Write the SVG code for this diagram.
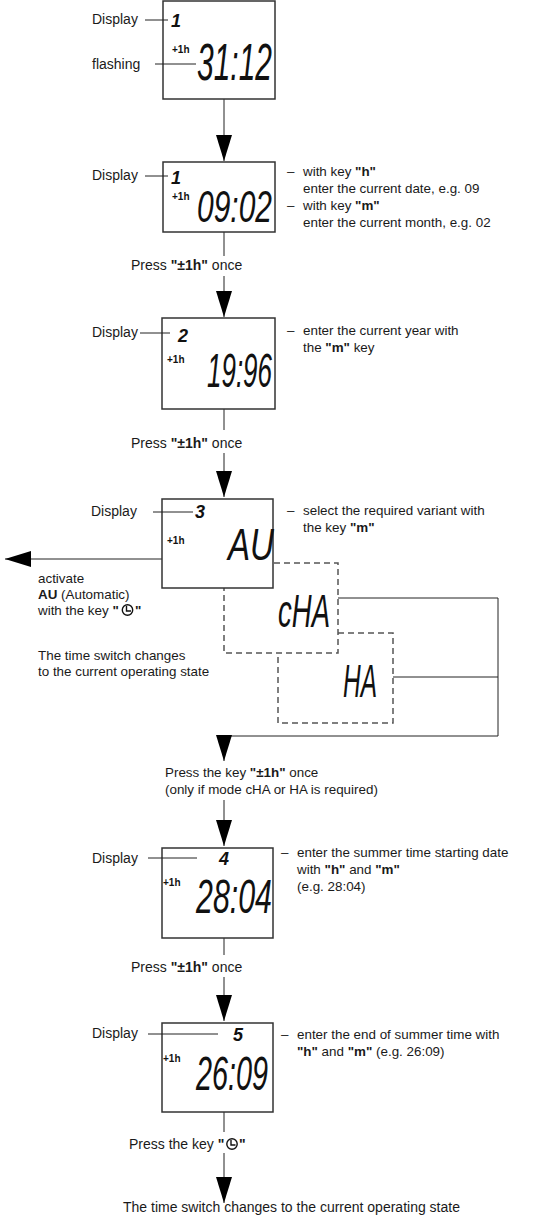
<svg xmlns="http://www.w3.org/2000/svg" width="546" height="1216" viewBox="0 0 546 1216">
<defs>
<style>
.t{font-family:"Liberation Sans",Arial,sans-serif;font-size:14px;fill:#1a1a1a}
.r{font-size:13.4px}
.b{font-weight:bold}
.box{fill:#fff;stroke:#333;stroke-width:1.5}
.dash{fill:#fff;stroke:#555;stroke-width:1.5;stroke-dasharray:6 4}
.ln{stroke:#222;stroke-width:1;fill:none}
.lcd{font-family:"Liberation Sans",Arial,sans-serif;font-style:italic;fill:#111}
.sm{font-family:"Liberation Sans",Arial,sans-serif;font-size:10px;font-weight:bold;fill:#111}
.num{font-family:"Liberation Sans",Arial,sans-serif;font-size:18px;font-weight:bold;font-style:italic;fill:#111}
.ic{fill:none;stroke:#111;stroke-width:1.4}
</style>
<marker id="ah" markerUnits="userSpaceOnUse" markerWidth="28" markerHeight="16" refX="26" refY="8" orient="auto">
<path d="M0,0 L26,8 L0,16 z" fill="#000"/>
</marker>
</defs>

<g id="connectors">
<line class="ln" x1="224" y1="99" x2="224" y2="161" marker-end="url(#ah)"/>
<line class="ln" x1="224" y1="232" x2="224" y2="256"/>
<line class="ln" x1="224" y1="276" x2="224" y2="317" marker-end="url(#ah)"/>
<line class="ln" x1="224" y1="409" x2="224" y2="430"/>
<line class="ln" x1="224" y1="453" x2="224" y2="497" marker-end="url(#ah)"/>
<line class="ln" x1="162" y1="559" x2="5" y2="559" marker-end="url(#ah)"/>
<line class="ln" x1="338" y1="598" x2="498" y2="598"/>
<line class="ln" x1="393" y1="677" x2="498" y2="677"/>
<path class="ln" d="M498,598 V736 H224 V761" marker-end="url(#ah)"/>
<line class="ln" x1="224" y1="800" x2="224" y2="846" marker-end="url(#ah)"/>
<line class="ln" x1="224" y1="938" x2="224" y2="955"/>
<line class="ln" x1="224" y1="977" x2="224" y2="1021" marker-end="url(#ah)"/>
<line class="ln" x1="224" y1="1112" x2="224" y2="1132"/>
<line class="ln" x1="224" y1="1153" x2="224" y2="1203" marker-end="url(#ah)"/>
</g>

<g id="display1">
<rect class="box" x="163" y="1" width="112" height="98"/>
<text class="t" x="92" y="24">Display</text>
<line class="ln" x1="145" y1="20" x2="168" y2="20"/>
<text class="num" x="171" y="27">1</text>
<text class="sm" x="172" y="53">+1h</text>
<text class="t" x="92" y="69">flashing</text>
<line class="ln" x1="155" y1="64" x2="196" y2="64"/>
<text class="lcd" x="197" y="80" font-size="52" textLength="75" lengthAdjust="spacingAndGlyphs">31:12</text>
</g>

<g id="display2">
<rect class="box" x="163" y="162" width="112" height="70"/>
<text class="t" x="92" y="180">Display</text>
<line class="ln" x1="145" y1="176" x2="168" y2="176"/>
<text class="num" x="171" y="184" font-size="16">1</text>
<text class="sm" x="172" y="200">+1h</text>
<text class="lcd" x="197" y="222" font-size="44" textLength="75" lengthAdjust="spacingAndGlyphs">09:02</text>
<text class="t r" x="287" y="176">–</text>
<text class="t r" x="303" y="176">with key <tspan class="b">"h"</tspan></text>
<text class="t r" x="303" y="193">enter the current date, e.g. 09</text>
<text class="t r" x="287" y="210">–</text>
<text class="t r" x="303" y="210">with key <tspan class="b">"m"</tspan></text>
<text class="t r" x="303" y="227">enter the current month, e.g. 02</text>
<text class="t" x="131" y="270">Press <tspan class="b">"±1h"</tspan> once</text>
</g>

<g id="display3">
<rect class="box" x="162" y="318" width="113" height="91"/>
<text class="t" x="92" y="337">Display</text>
<line class="ln" x1="140" y1="333" x2="170" y2="333"/>
<text class="num" x="178" y="342" font-size="15">2</text>
<text class="sm" x="167" y="363">+1h</text>
<text class="lcd" x="207" y="387" font-size="48" textLength="65" lengthAdjust="spacingAndGlyphs">19:96</text>
<text class="t r" x="287" y="335">–</text>
<text class="t r" x="303" y="335">enter the current year with</text>
<text class="t r" x="303" y="352">the <tspan class="b">"m"</tspan> key</text>
<text class="t" x="131" y="448">Press <tspan class="b">"±1h"</tspan> once</text>
</g>

<g id="variantHA">
<rect class="dash" x="278" y="633" width="115" height="90"/>
<text class="lcd" x="343" y="697" font-size="46" textLength="34" lengthAdjust="spacingAndGlyphs">HA</text>
</g>

<g id="variantcHA">
<rect class="dash" x="224" y="563" width="114" height="90"/>
<text class="lcd" x="278" y="627" font-size="46" textLength="52" lengthAdjust="spacingAndGlyphs">cHA</text>
</g>

<g id="display4">
<rect class="box" x="162" y="499" width="111" height="89"/>
<text class="t" x="91" y="516">Display</text>
<line class="ln" x1="153" y1="512" x2="193" y2="512"/>
<text class="num" x="195" y="518" font-size="15">3</text>
<text class="sm" x="167" y="544">+1h</text>
<text class="lcd" x="228" y="560" font-size="44" textLength="46" lengthAdjust="spacingAndGlyphs">AU</text>
<text class="t r" x="287" y="515">–</text>
<text class="t r" x="303" y="515">select the required variant with</text>
<text class="t r" x="303" y="532">the key <tspan class="b">"m"</tspan></text>
</g>

<g id="autoNote">
<text class="t r" x="38" y="583">activate</text>
<text class="t r" x="38" y="599"><tspan class="b">AU</tspan> (Automatic)</text>
<text class="t r" x="38" y="615">with the key <tspan class="b">"</tspan></text>
<circle class="ic" cx="127.5" cy="610" r="5.2"/>
<path class="ic" d="M126.5,606 V611 H131"/>
<text class="t r b" x="135" y="615">"</text>
<text class="t r" x="38" y="660">The time switch changes</text>
<text class="t r" x="38" y="676">to the current operating state</text>
</g>

<g id="pressNote">
<text class="t r" x="165" y="777">Press the key <tspan class="b">"±1h"</tspan> once</text>
<text class="t r" x="165" y="794">(only if mode cHA or HA is required)</text>
</g>

<g id="display5">
<rect class="box" x="162" y="848" width="111" height="90"/>
<text class="t" x="92" y="863">Display</text>
<line class="ln" x1="148" y1="858" x2="197" y2="858"/>
<text class="num" x="219" y="865" font-size="15">4</text>
<text class="sm" x="163" y="886">+1h</text>
<text class="lcd" x="196" y="913" font-size="48" textLength="76" lengthAdjust="spacingAndGlyphs">28:04</text>
<text class="t r" x="281" y="857">–</text>
<text class="t r" x="297" y="857">enter the summer time starting date</text>
<text class="t r" x="297" y="874">with <tspan class="b">"h"</tspan> and <tspan class="b">"m"</tspan></text>
<text class="t r" x="297" y="891">(e.g. 28:04)</text>
<text class="t" x="131" y="972">Press <tspan class="b">"±1h"</tspan> once</text>
</g>

<g id="display6">
<rect class="box" x="162" y="1023" width="111" height="89"/>
<text class="t" x="92" y="1038">Display</text>
<line class="ln" x1="148" y1="1034" x2="218" y2="1034"/>
<text class="num" x="233" y="1041" font-size="15">5</text>
<text class="sm" x="163" y="1062">+1h</text>
<text class="lcd" x="196" y="1090" font-size="48" textLength="72" lengthAdjust="spacingAndGlyphs">26:09</text>
<text class="t r" x="281" y="1039">–</text>
<text class="t r" x="297" y="1039">enter the end of summer time with</text>
<text class="t r" x="297" y="1056"><tspan class="b">"h"</tspan> and <tspan class="b">"m"</tspan> (e.g. 26:09)</text>
</g>

<g id="finalNote">
<text class="t" x="129" y="1149">Press the key <tspan class="b">"</tspan></text>
<circle class="ic" cx="232" cy="1144" r="5.2"/>
<path class="ic" d="M231,1140 V1145 H235.5"/>
<text class="t b" x="239" y="1149">"</text>
<text class="t" x="123" y="1212">The time switch changes to the current operating state</text>
</g>
</svg>
